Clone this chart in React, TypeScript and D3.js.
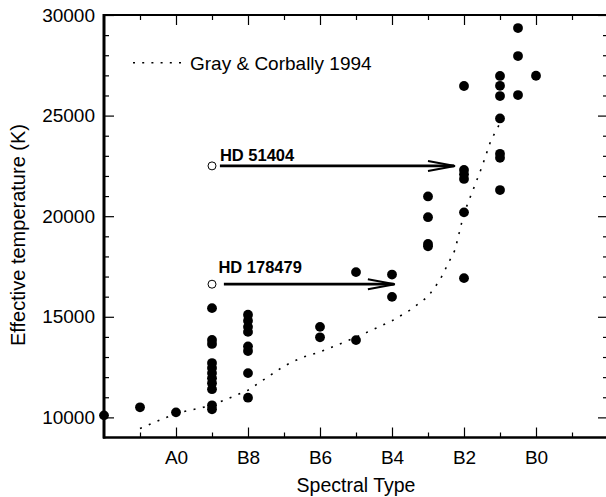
import React, { useEffect, useRef } from 'react';
import * as d3 from 'd3';

// spectral index: 0 = A2, 1 = A1, 2 = A0, 3 = B9 ... 12 = B0, 14 = right edge
const tickIndex = [2, 4, 6, 8, 10, 12];
const tickLabels = ['A0', 'B8', 'B6', 'B4', 'B2', 'B0'];
const tempTicks = [10000, 15000, 20000, 25000, 30000];

// observed stars [spectral index, Teff]
const stars: [number, number][] = [
  [0, 10100], [1, 10500], [2, 10250],
  [3, 15430], [3, 13850], [3, 13650], [3, 12700], [3, 12450], [3, 12200],
  [3, 11950], [3, 11700], [3, 11400], [3, 10600], [3, 10400],
  [4, 15100], [4, 14800], [4, 14500], [4, 14250], [4, 13530], [4, 13300],
  [4, 12200], [4, 10980],
  [6, 14500], [6, 13980],
  [7, 17220], [7, 13840],
  [8, 17100], [8, 15990],
  [9, 20980], [9, 19950], [9, 18620], [9, 18500],
  [10, 26470], [10, 22300], [10, 22080], [10, 21850], [10, 20190], [10, 16920],
  [11, 26970], [11, 26480], [11, 25970], [11, 24860], [11, 23100], [11, 22900], [11, 21300],
  [11.5, 29350], [11.5, 27960], [11.5, 26020],
  [12, 26980],
];

// Gray & Corbally 1994 calibration
const grayCorbally: [number, number][] = [
  [1, 9450], [2, 10200], [3, 10600], [4, 11350], [5, 12550], [5.5, 12980],
  [6, 13250], [7, 13980], [8, 14800], [8.5, 15330], [9, 16000], [9.33, 16820],
  [9.75, 18320], [10, 20150], [10.25, 21300], [10.5, 22460], [10.75, 23780], [11, 24620],
];

// highlighted stars with their shift arrows
const hdNames = ['HD 51404', 'HD 178479'];
const hdStars: [number, number][] = [[3, 22500], [3, 16620]];
const hdArrows: [number, number][] = [[3.22, 9.75], [3.33, 8.08]];

const FONT = '"Liberation Sans", Arial, Helvetica, sans-serif';

const App: React.FC = () => {
  const svgRef = useRef<SVGSVGElement>(null);
  const width = 606;
  const height = 497;

  useEffect(() => {
    if (!svgRef.current) return;
    const svg = d3.select(svgRef.current);
    svg.selectAll('*').remove();

    const left = 104, right = 608, top = 15, bottom = 437.5;
    const x = d3.scaleLinear().domain([0, 14]).range([left, right]);
    const y = d3.scaleLinear().domain([9000, 30000]).range([bottom, top]);

    const minorX = d3.range(1, 14, 2);
    const minorY = d3.range(10000, 30000, 1000).filter(v => v % 5000 !== 0);

    const styleAxis = (g: d3.Selection<SVGGElement, unknown, null, undefined>) => {
      g.select('.domain').remove();
      g.selectAll('line').attr('stroke', '#000').attr('stroke-width', 1.2);
      g.attr('font-family', FONT).attr('font-size', 19);
      g.selectAll('text').attr('fill', '#000');
    };

    // bottom axis
    svg.append('g')
      .attr('transform', `translate(0,${bottom})`)
      .call(d3.axisBottom(x).tickValues(tickIndex).tickSize(-10).tickPadding(13)
        .tickFormat((_d, i) => tickLabels[i]))
      .call(styleAxis);
    svg.append('g')
      .attr('transform', `translate(0,${bottom})`)
      .call(d3.axisBottom(x).tickValues(minorX).tickSize(-5).tickFormat(() => ''))
      .call(styleAxis);

    // top axis
    svg.append('g')
      .attr('transform', `translate(0,${top})`)
      .call(d3.axisTop(x).tickValues(tickIndex).tickSize(-10).tickFormat(() => ''))
      .call(styleAxis);
    svg.append('g')
      .attr('transform', `translate(0,${top})`)
      .call(d3.axisTop(x).tickValues(minorX).tickSize(-5).tickFormat(() => ''))
      .call(styleAxis);

    // left axis
    svg.append('g')
      .attr('transform', `translate(${left},0)`)
      .call(d3.axisLeft(y).tickValues(tempTicks).tickSize(-10).tickPadding(9)
        .tickFormat(d => String(d)))
      .call(styleAxis);
    svg.append('g')
      .attr('transform', `translate(${left},0)`)
      .call(d3.axisLeft(y).tickValues(minorY).tickSize(-5).tickFormat(() => ''))
      .call(styleAxis);

    // right axis
    svg.append('g')
      .attr('transform', `translate(${right},0)`)
      .call(d3.axisRight(y).tickValues(tempTicks).tickSize(-10).tickFormat(() => ''))
      .call(styleAxis);
    svg.append('g')
      .attr('transform', `translate(${right},0)`)
      .call(d3.axisRight(y).tickValues(minorY).tickSize(-5).tickFormat(() => ''))
      .call(styleAxis);

    // frame
    svg.append('line').attr('x1', left).attr('x2', right + 2).attr('y1', top).attr('y2', top)
      .attr('stroke', '#000').attr('stroke-width', 2.2);
    svg.append('line').attr('x1', left - 1).attr('x2', right + 2).attr('y1', bottom).attr('y2', bottom)
      .attr('stroke', '#000').attr('stroke-width', 2.4);
    svg.append('line').attr('x1', left).attr('x2', left).attr('y1', top - 1).attr('y2', bottom + 1)
      .attr('stroke', '#000').attr('stroke-width', 3);
    svg.append('line').attr('x1', right).attr('x2', right).attr('y1', top).attr('y2', bottom)
      .attr('stroke', '#000').attr('stroke-width', 2.2);

    // calibration curve
    const line = d3.line<[number, number]>().x(d => x(d[0])).y(d => y(d[1]));
    svg.append('path')
      .datum(grayCorbally)
      .attr('d', line)
      .attr('fill', 'none')
      .attr('stroke', '#000')
      .attr('stroke-width', 1.6)
      .attr('stroke-dasharray', '2 7.5');

    // stars
    svg.append('g')
      .selectAll('circle')
      .data(stars)
      .enter().append('circle')
      .attr('cx', d => x(d[0]))
      .attr('cy', d => y(d[1]))
      .attr('r', 4.9)
      .attr('fill', '#000');

    // highlighted stars and arrows
    const labelDy = [-4.5, -11];
    hdNames.forEach((name, i) => {
      const [sx, sy] = hdStars[i];
      const [a0, a1] = hdArrows[i];
      const py = y(sy);
      const tip = x(a1);
      svg.append('circle')
        .attr('cx', x(sx)).attr('cy', py).attr('r', 4)
        .attr('fill', '#fff').attr('stroke', '#000').attr('stroke-width', 1);
      svg.append('line')
        .attr('x1', x(a0)).attr('x2', tip - 1).attr('y1', py).attr('y2', py)
        .attr('stroke', '#000').attr('stroke-width', 2.7);
      svg.append('path')
        .attr('d', `M${tip - 27},${py - 5} L${tip},${py} L${tip - 27},${py + 5}`)
        .attr('fill', 'none').attr('stroke', '#000').attr('stroke-width', 2);
      svg.append('text')
        .attr('x', x(a0) - (i === 0 ? 0 : 5.5))
        .attr('y', py + labelDy[i])
        .attr('font-family', FONT)
        .attr('font-size', 16.5)
        .attr('font-weight', 'bold')
        .text(name);
    });

    // legend
    svg.append('line')
      .attr('x1', 133).attr('x2', 181).attr('y1', 62.7).attr('y2', 62.7)
      .attr('stroke', '#000').attr('stroke-width', 1.6).attr('stroke-dasharray', '2 7.2');
    svg.append('text')
      .attr('x', 190).attr('y', 69.5)
      .attr('font-family', FONT).attr('font-size', 19)
      .text('Gray & Corbally 1994');

    // axis titles
    svg.append('text')
      .attr('x', (left + right) / 2).attr('y', 492)
      .attr('text-anchor', 'middle')
      .attr('font-family', FONT).attr('font-size', 19.5)
      .text('Spectral Type');
    svg.append('text')
      .attr('transform', `translate(24.5,235) rotate(-90)`)
      .attr('text-anchor', 'middle')
      .attr('font-family', FONT).attr('font-size', 20)
      .text('Effective temperature (K)');
  }, []);

  return (
    <svg
      ref={svgRef}
      width={width}
      height={height}
      style={{ position: 'absolute', left: 0, top: 0, background: '#fff' }}
    />
  );
};

export default App;
